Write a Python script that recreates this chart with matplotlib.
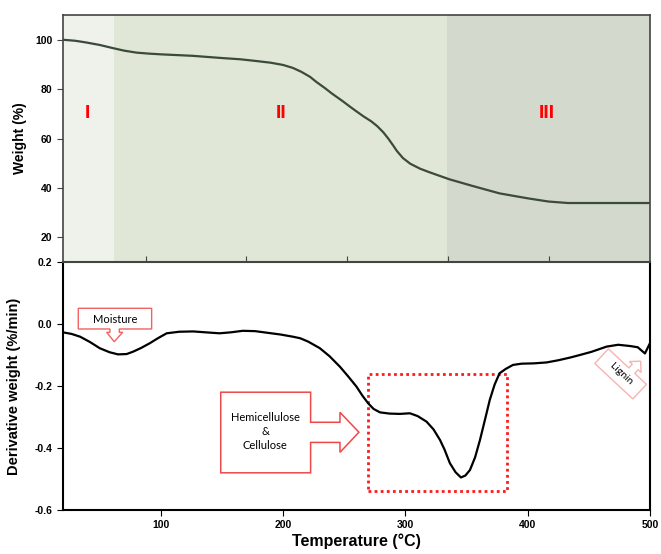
import matplotlib.pyplot as plt
from matplotlib.patches import Polygon, Rectangle
from matplotlib.transforms import Affine2D

# weight loss curve (TGA)
temp_w = [20, 30, 39, 50, 61, 70, 80, 90, 100, 126, 150, 165, 178, 190, 200, 208, 215, 222, 227,
          234, 240, 248, 255, 260, 266, 272, 277, 282, 286, 290, 293, 298, 304, 312, 320, 328,
          336, 355, 377, 400, 417, 425, 433, 450, 500]
weight = [100, 99.6, 98.9, 97.9, 96.6, 95.6, 94.8, 94.4, 94.1, 93.5, 92.6, 92.1, 91.4, 90.7, 89.8,
          88.6, 87.0, 85.0, 83.0, 80.5, 78.2, 75.4, 72.8, 71.0, 68.9, 67.0, 65.0, 62.5, 60.0, 57.2,
          55.0, 52.1, 49.8, 47.8, 46.3, 44.9, 43.5, 40.8, 37.8, 35.8, 34.5, 34.2, 33.9, 33.9, 33.9]

# derivative curve (DTG)
temp_d = [20, 27, 34, 42, 50, 58, 65, 72, 77.5, 84, 91, 98, 104.8, 115, 126.5, 137, 148, 157, 167,
          177, 186.5, 198, 208, 214, 220.6, 230, 238, 246.5, 253, 260, 265, 269.6, 274, 279.2,
          287, 295.5, 303.7, 310, 317.3, 323, 328.3, 332, 336.4, 341, 345.4, 349, 352.8, 357,
          361, 365, 369, 373, 377, 382, 388, 395, 405, 415.5, 425, 435, 442.7, 452, 464.5,
          474, 483.6, 490, 495.9, 500]
dtg = [-0.027, -0.032, -0.041, -0.058, -0.078, -0.091, -0.098, -0.097, -0.089, -0.077, -0.062, -0.045,
       -0.030, -0.025, -0.024, -0.027, -0.030, -0.027, -0.022, -0.023, -0.028, -0.034, -0.041,
       -0.046, -0.057, -0.078, -0.104, -0.138, -0.168, -0.202, -0.232, -0.256, -0.274, -0.285,
       -0.289, -0.290, -0.288, -0.297, -0.315, -0.340, -0.374, -0.405, -0.449, -0.478, -0.495,
       -0.489, -0.471, -0.430, -0.374, -0.310, -0.245, -0.195, -0.159, -0.145, -0.132, -0.128,
       -0.127, -0.124, -0.117, -0.108, -0.100, -0.090, -0.073, -0.067, -0.071, -0.075, -0.095, -0.062]

regions = [(20, 62, '#eef2ea'), (62, 334, '#e1e7d6'), (334, 500, '#d3d9cc')]
region_labels = ['I', 'II', 'III']
region_label_x = [40, 198, 416]

fig = plt.figure(figsize=(6.61, 5.54), dpi=100)
ax1 = fig.add_axes([0.0953, 0.527, 0.888, 0.4458])
ax2 = fig.add_axes([0.0953, 0.0794, 0.888, 0.4477])

# ---- top panel
for (a, b, c) in regions:
    ax1.axvspan(a, b, color=c, lw=0, zorder=0)
ax1.plot(temp_w, weight, color='#3b4a3b', lw=1.6)
for lab, lx in zip(region_labels, region_label_x):
    ax1.text(lx, 70, lab, color='#ff0000', fontsize=14, fontweight='bold',
             ha='center', va='center', family='Liberation Sans')
ax1.set_xlim(20, 500)
ax1.set_ylim(10, 110)
ax1.set_yticks([20, 40, 60, 80, 100])
ax1.set_xticks([87.5, 170, 252.5, 335, 417.5])
ax1.tick_params(axis='x', direction='in', length=4, labelbottom=False, color='#444444')
ax1.tick_params(axis='y', direction='out', length=4, color='#444444', labelsize=7.5)
for s in ax1.spines.values():
    s.set_color('#444444')
    s.set_linewidth(1.2)
ax1.set_ylabel('Weight (%)', fontsize=10, fontweight='bold', labelpad=8)

# ---- bottom panel
ax2.plot(temp_d, dtg, color='black', lw=1.6)
ax2.set_xlim(20, 500)
ax2.set_ylim(-0.6, 0.2)
ax2.set_xticks([100, 200, 300, 400, 500])
ax2.set_yticks([-0.6, -0.4, -0.2, 0.0, 0.2])
ax2.set_yticklabels(['-0.6', '-0.4', '-0.2', '0.0', '0.2'])
ax2.tick_params(direction='out', length=4, labelsize=7.5)
for s in ax2.spines.values():
    s.set_linewidth(1.5)
ax2.spines['top'].set_color('#444444')
ax2.set_xlabel('Temperature (°C)', fontsize=11.5, fontweight='bold', labelpad=6)
ax2.set_ylabel('Derivative weight (%/min)', fontsize=10.5, fontweight='bold', labelpad=6)
ax2.xaxis.set_label_coords(0.5, -0.095)

for ax in (ax1, ax2):
    for lab in ax.get_xticklabels() + ax.get_yticklabels():
        lab.set_fontweight('bold')
        lab.set_family('Liberation Sans')
    ax.xaxis.label.set_family('Liberation Sans')
    ax.yaxis.label.set_family('Liberation Sans')
ax1.yaxis.set_label_coords(-0.062, 0.5)
ax2.yaxis.set_label_coords(-0.072, 0.5)

# moisture callout
moist = [(32.5, 0.0506), (92.5, 0.0506), (92.5, -0.0161), (66, -0.0161), (66, -0.0268),
         (68.8, -0.0268), (61.9, -0.0571), (55.7, -0.0268), (58.4, -0.0268), (58.4, -0.0161),
         (32.5, -0.0161)]
ax2.add_patch(Polygon(moist, closed=True, fc='white', ec='#f26262', lw=1))
ax2.text(62.5, 0.014, 'Moisture', fontsize=8, family='Lato', ha='center', va='center')

# hemicellulose & cellulose arrow
hemi = [(149, -0.22), (222.5, -0.22), (222.5, -0.317), (246.5, -0.317), (246.5, -0.285),
        (262, -0.349), (246.5, -0.414), (246.5, -0.382), (222.5, -0.382), (222.5, -0.48),
        (149, -0.48)]
ax2.add_patch(Polygon(hemi, closed=True, fc='white', ec='#f04848', lw=1.1))
ax2.text(185.5, -0.346, 'Hemicellulose\n&\nCellulose', fontsize=8, family='Lato',
         ha='center', va='center', linespacing=1.35)

# dotted box around the main peak
ax2.add_patch(Rectangle((269.6, -0.538), 113.2, 0.377, fill=False, ec='#ff1a1a',
                        ls=(0, (1, 1.2)), lw=2))

# lignin callout (rotated)
cx, cy = ax2.transData.transform((476, -0.161))
tr = Affine2D().rotate_deg(-43).translate(cx, cy)
lig = [(-26, -10), (26, -10), (26, 10), (10, 10), (10, 15), (14, 15), (6, 23), (-2, 15),
       (2, 15), (2, 10), (-26, 10)]
ax2.add_patch(Polygon(lig, closed=True, fc='white', ec='#f7b3b3', lw=1, transform=tr,
                      clip_on=False))
ax2.text(cx, cy, 'Lignin', fontsize=7.5, family='Lato', rotation=-43, ha='center',
         va='center', rotation_mode='anchor', transform=None)

fig.savefig('out.png', dpi=100)
